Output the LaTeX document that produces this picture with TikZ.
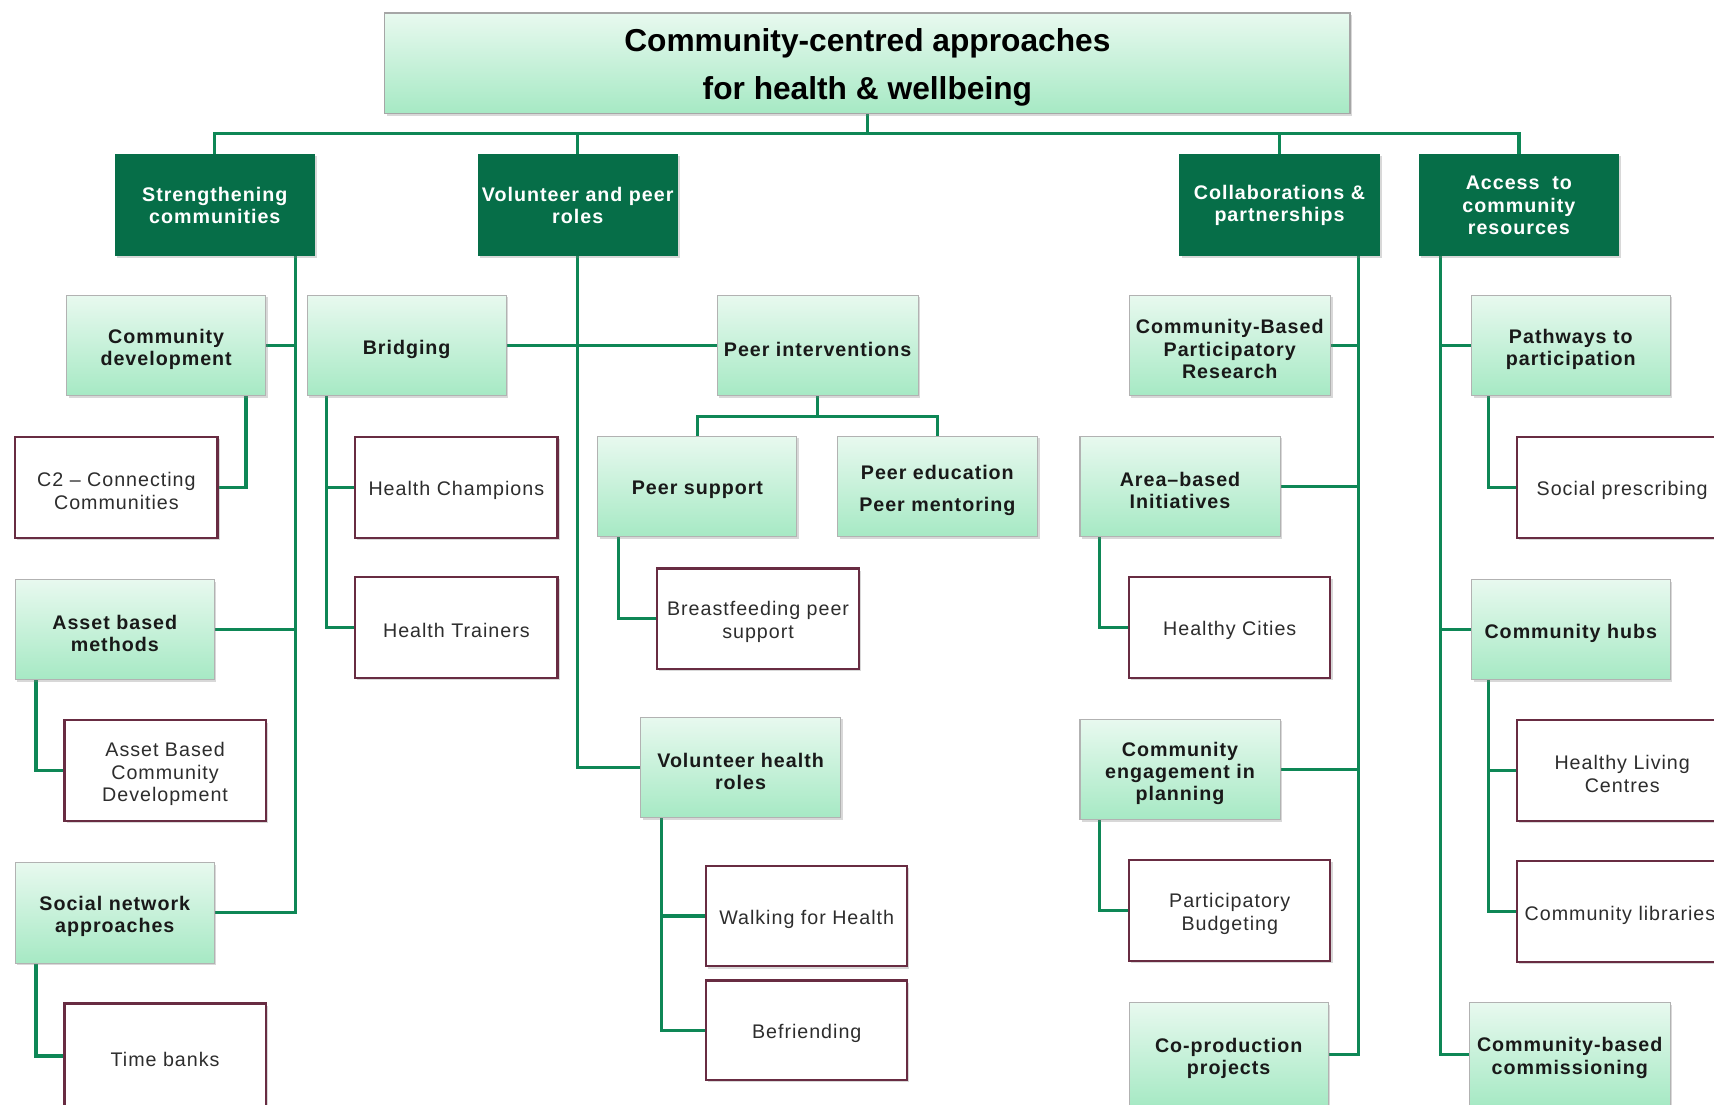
\documentclass[tikz,border=0pt]{standalone}
\usepackage{fontspec}
\setmainfont{Liberation Sans}
\newfontfamily\lsp{Liberation Sans}[LetterSpace=5]
\usetikzlibrary{shadows}
\definecolor{dkgreen}{RGB}{6,110,72}
\definecolor{lngreen}{RGB}{14,135,86}
\definecolor{lgtop}{RGB}{232,249,239}
\definecolor{lgbot}{RGB}{166,233,196}
\definecolor{maroon}{RGB}{104,44,66}
\definecolor{txtgray}{RGB}{45,45,45}
\pgfdeclarelayer{back}
\pgfdeclarelayer{bg}
\pgfsetlayers{back,bg,main}
\tikzset{
 myshadow/.style={drop shadow={shadow xshift=2pt,shadow yshift=-2pt,opacity=0.3}},
 base/.style={inner sep=0pt, outer sep=0pt, myshadow},
 titlebox/.style={base, draw=black!35, line width=1.2pt, top color=lgtop, bottom color=lgbot},
 titletxt/.style={align=center, inner sep=0pt, yshift=-3.5pt, text=black, font=\fontsize{29}{44}\selectfont\bfseries},
 catbox/.style={base, fill=dkgreen},
 cattxt/.style={align=center, inner sep=0pt, yshift=-0.5pt, text=white, font=\lsp\fontsize{18}{20.5}\selectfont\bfseries},
 greenbox/.style={base, draw=black!30, line width=1pt, top color=lgtop, bottom color=lgbot},
 greentxt/.style={align=center, inner sep=0pt, yshift=-3.5pt, text=black!90, font=\lsp\fontsize{18}{20.5}\selectfont\bfseries},
 whitebox/.style={base, draw=maroon, line width=2pt, fill=white},
 whitetxt/.style={align=center, inner sep=0pt, yshift=-3pt, text=txtgray, font=\lsp\fontsize{18}{20.5}\selectfont},
 conn/.style={draw=lngreen, line width=3pt},
}
% \bx{box style}{text style}{name}{left}{top}{right}{bottom}{text}
\newcommand\bx[8]{%
 \node[#1, minimum width={(#6-#4)*1pt}, minimum height={(#7-#5)*1pt}] (#3) at ({(#4+#6)/2},{(#5+#7)/2}) {};
 \node[#2] (#3t) at (#3.center) {#8};}
\begin{document}
\begin{tikzpicture}[x=1pt,y=-1pt]
\useasboundingbox (0,0) rectangle (1568,1010);
\begin{pgfonlayer}{back}
\fill[white] (0,0) rectangle (1568,1010);
\end{pgfonlayer}
\begin{scope}
\clip (0,0) rectangle (1568,1010);
\bx{titlebox}{titletxt}{title}{352}{12}{1235}{104}{Community-centred approaches\\for health \& wellbeing}
\bx{catbox}{cattxt}{s1}{105}{141}{288}{234}{Strengthening\\communities}
\bx{catbox}{cattxt}{s2}{437}{141}{620}{234}{Volunteer and peer\\roles}
\bx{catbox}{cattxt}{s3}{1079}{141}{1262}{234}{Collaborations \&\\partnerships}
\bx{catbox}{cattxt}{s4}{1298}{141}{1481}{234}{Access\ \ to\\community\\resources}
% green boxes
\bx{greenbox}{greentxt}{cd}{61}{270}{243}{362}{Community\\development}
\bx{greenbox}{greentxt}{abm}{14}{530}{196}{622}{Asset based\\methods}
\bx{greenbox}{greentxt}{sna}{14}{789}{196}{881}{Social network\\approaches}
\bx{greenbox}{greentxt}{br}{281}{270}{463}{362}{Bridging}
\bx{greenbox}{greentxt}{pi}{656}{270}{840}{362}{Peer interventions}
\bx{greenbox}{greentxt}{ps}{547}{399}{729}{491}{Peer support}
\bx{greenbox}{greentxt}{pe}{766}{399}{949}{491}{Peer education\\[9pt]Peer mentoring}
\bx{greenbox}{greentxt}{vhr}{586}{656}{769}{748}{Volunteer health\\roles}
\bx{greenbox}{greentxt}{cbpr}{1033}{270}{1217}{362}{Community-Based\\Participatory\\Research}
\bx{greenbox}{greentxt}{abi}{988}{399}{1171}{491}{Area–based\\Initiatives}
\bx{greenbox}{greentxt}{cep}{988}{658}{1171}{750}{Community\\engagement in\\planning}
\bx{greenbox}{greentxt}{cpp}{1033}{917}{1215}{1012}{Co-production\\projects}
\bx{greenbox}{greentxt}{ptp}{1346}{270}{1528}{362}{Pathways to\\participation}
\bx{greenbox}{greentxt}{ch}{1346}{530}{1528}{622}{Community hubs}
\bx{greenbox}{greentxt}{cbc}{1344}{917}{1528}{1012}{Community-based\\commissioning}
% white boxes
\bx{whitebox}{whitetxt}{c2}{14}{400}{199}{492}{C2 – Connecting\\Communities}
\bx{whitebox}{whitetxt}{abcd}{59}{659}{243}{751}{Asset Based\\Community\\Development}
\bx{whitebox}{whitetxt}{tb}{59}{918}{243}{1014}{Time banks}
\bx{whitebox}{whitetxt}{hc}{325}{400}{510}{492}{Health Champions}
\bx{whitebox}{whitetxt}{ht}{325}{528}{510}{620}{Health Trainers}
\bx{whitebox}{whitetxt}{bps}{601}{520}{786}{612}{Breastfeeding peer\\support}
\bx{whitebox}{whitetxt}{wfh}{646}{792}{830}{884}{Walking for Health}
\bx{whitebox}{whitetxt}{bef}{646}{897}{830}{988}{Befriending}
\bx{whitebox}{whitetxt}{hcit}{1033}{528}{1217}{620}{Healthy Cities}
\bx{whitebox}{whitetxt}{pb}{1033}{787}{1217}{879}{Participatory\\Budgeting}
\bx{whitebox}{whitetxt}{sp}{1388}{400}{1580}{492}{Social prescribing}
\bx{whitebox}{whitetxt}{hlc}{1388}{659}{1580}{751}{Healthy Living\\Centres}
\bx{whitebox}{whitetxt}{cl}{1388}{788}{1576}{880}{Community libraries}
\end{scope}
\begin{pgfonlayer}{bg}
\coordinate (bus) at (793,122);
\draw[conn] (title.south) -- (title.south |- bus);
\draw[conn] (s1.north) -- (s1.north |- bus) -- (s4.north |- bus) -- (s4.north);
\draw[conn] (s2.north) -- (s2.north |- bus);
\draw[conn] (s3.north) -- (s3.north |- bus);
% strengthening
\coordinate (x1) at (270,0);
\draw[conn] (s1.south -| x1) |- (sna.east);
\draw[conn] (cd.east) -- (cd.east -| x1);
\draw[conn] (abm.east) -- (abm.east -| x1);
\coordinate (x2) at (225,0);
\draw[conn] (cd.south -| x2) |- (c2.east);
\coordinate (x3) at (33,0);
\draw[conn] (abm.south -| x3) |- (abcd.west);
\draw[conn] (sna.south -| x3) |- (tb.west);
% volunteer
\coordinate (x4) at (299,0);
\draw[conn] (br.south -| x4) |- (ht.west);
\draw[conn] (hc.west) -- (hc.west -| x4);
\draw[conn] (br.east) -- (pi.west);
\draw[conn] (s2.south) |- (vhr.west);
\coordinate (pbar) at (0,381);
\draw[conn] (pi.south) -- (pi.south |- pbar);
\draw[conn] (ps.north) -- (ps.north |- pbar) -- (pe.north |- pbar) -- (pe.north);
\coordinate (x5) at (566,0);
\draw[conn] (ps.south -| x5) |- (bps.west);
\coordinate (x6) at (605,0);
\draw[conn] (vhr.south -| x6) |- (bef.west);
\draw[conn] (wfh.west) -- (wfh.west -| x6);
% collaborations
\coordinate (x7) at (1243,0);
\draw[conn] (s3.south -| x7) |- (cpp.east);
\draw[conn] (cbpr.east) -- (cbpr.east -| x7);
\draw[conn] (abi.east) -- (abi.east -| x7);
\draw[conn] (cep.east) -- (cep.east -| x7);
\coordinate (x8) at (1006,0);
\draw[conn] (abi.south -| x8) |- (hcit.west);
\draw[conn] (cep.south -| x8) |- (pb.west);
% access
\coordinate (x9) at (1318,0);
\draw[conn] (s4.south -| x9) |- (cbc.west);
\draw[conn] (ptp.west) -- (ptp.west -| x9);
\draw[conn] (ch.west) -- (ch.west -| x9);
\coordinate (x10) at (1362,0);
\draw[conn] (ptp.south -| x10) |- (sp.west);
\draw[conn] (ch.south -| x10) |- (cl.west);
\draw[conn] (hlc.west) -- (hlc.west -| x10);
\end{pgfonlayer}
\end{tikzpicture}
\end{document}
